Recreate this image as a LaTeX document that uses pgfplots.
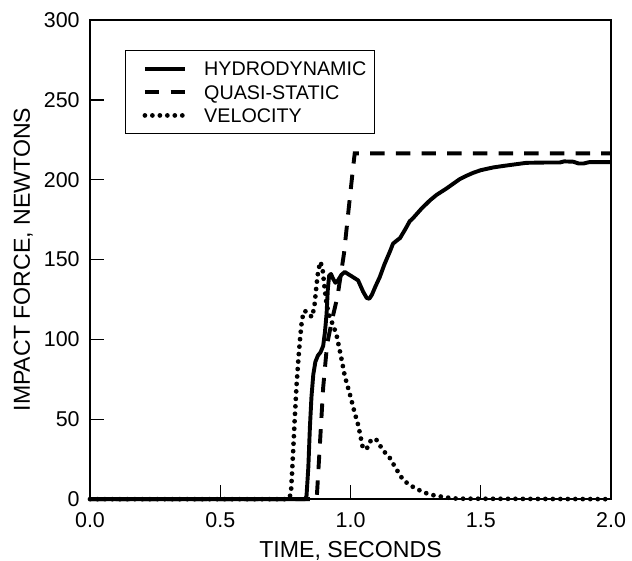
\documentclass[border=0pt]{standalone}
\usepackage{fontspec}
\setmainfont{Liberation Sans}
\usepackage{pgfplots}
\pgfplotsset{compat=1.18}
\begin{document}
\begin{tikzpicture}
\useasboundingbox (-52.94pt,-35.9pt) rectangle (318.8pt,293.6pt);
\begin{axis}[
  at={(0pt,0pt)}, anchor=south west, scale only axis,
  width=306.5pt, height=281.8pt,
  xmin=0, xmax=2, ymin=0, ymax=300,
  xtick={0,0.5,1,1.5,2}, ytick={0,50,100,150,200,250,300},
  xticklabels={0.0,0.5,1.0,1.5,2.0},
  tick align=inside, xtick pos=bottom, ytick pos=left,
  major tick length=8.2pt,
  axis line style={line width=0.9pt},
  tick style={line width=0.8pt, black},
  /pgf/number format/assume math mode=true,
  ticklabel style={font=\fontsize{12.6}{14}\selectfont},
  yticklabel style={inner sep=0pt, anchor=east, xshift=-5.9pt},
  xticklabel style={inner sep=0pt, anchor=north, yshift=-7.6pt},
  xlabel={TIME, SECONDS},
  ylabel={IMPACT FORCE, NEWTONS},
  label style={font=\fontsize{13.6}{15}\selectfont},
  xlabel style={at={([yshift=-24.6pt]axis description cs:0.5,0)}, anchor=north, inner sep=0pt},
  ylabel style={at={([xshift=-45.1pt]axis description cs:0,0.5)}, anchor=north, inner sep=0pt},
  clip=false,
  legend style={at={(axis description cs:0.0672,0.937)}, anchor=north west, draw=black, line width=0.6pt, fill=white,
    inner xsep=4.7pt, inner ysep=6.5pt, row sep=5.4pt, font=\fontsize{11.6}{13}\selectfont,
    nodes={inner sep=0pt, text height=8.3pt, text depth=0pt}},
  legend cell align=left,
  legend image code/.code={\path (-5.3pt,0pt) (33.5pt,0pt); \draw[#1] (0pt,0pt) -- (23.5pt,0pt);},
]
\addplot[black, line width=2.3pt, line join=round] coordinates {
(0,0) (0.826,0) (0.831,2) (0.838,20) (0.844,45) (0.85,64) (0.857,78) (0.865,86) (0.875,90) (0.885,92)
(0.895,96) (0.902,105) (0.908,116) (0.913,132) (0.918,140) (0.925,141) (0.933,138) (0.942,135.5)
(0.952,137) (0.965,140.5) (0.978,142.3) (0.99,141) (1.005,139.5) (1.029,137) (1.048,130) (1.062,126)
(1.072,125.5) (1.082,128) (1.095,133) (1.112,139) (1.13,147) (1.151,155) (1.163,160) (1.178,162)
(1.19,163.5) (1.21,169) (1.227,174) (1.24,176) (1.27,181.5) (1.304,187) (1.33,190.5) (1.368,194.5)
(1.394,197.5) (1.42,200.5) (1.445,202.5) (1.47,204.3) (1.5,206) (1.547,207.7) (1.58,208.5)
(1.611,209.2) (1.675,210.6) (1.75,210.8) (1.803,210.8) (1.82,211.5) (1.855,211.3) (1.875,210.2)
(1.895,210.2) (1.915,211) (2.0,211)
};
\addlegendentry{HYDRODYNAMIC}
\addplot[black, line width=2.3pt, dash pattern=on 8.5pt off 6.6pt] coordinates {
(0,0) (0.87,0) (0.878,22) (0.895,70) (0.91,97) (0.93,113) (0.95,127) (0.975,154) (0.991,179)
(1.01,208) (1.016,216.5) (2.0,216.5)
};
\addlegendentry{QUASI-STATIC}
\addplot[black, line width=2.8pt, line cap=round, dash pattern=on 0pt off 4.4pt] coordinates {
(0,0) (0.76,0) (0.771,3) (0.775,15) (0.78,31) (0.786,51) (0.793,72) (0.8,88) (0.806,100) (0.812,110)
(0.818,116) (0.825,118) (0.835,116) (0.845,115) (0.853,114) (0.862,122) (0.87,135) (0.876,143)
(0.884,148.6) (0.892,145) (0.9,133) (0.908,122) (0.92,114) (0.933,109) (0.946,103) (0.965,88)
(0.978,77) (0.997,66) (1.016,54) (1.03,46) (1.046,33) (1.056,31) (1.066,32.5) (1.074,36) (1.09,38)
(1.1,37) (1.125,30.5) (1.15,26) (1.175,19) (1.2,12.5) (1.225,9) (1.253,6.5) (1.285,4) (1.317,2.5)
(1.36,1.2) (1.41,0.3) (2.0,0)
};
\addlegendentry{VELOCITY}
\end{axis}
\end{tikzpicture}
\end{document}
